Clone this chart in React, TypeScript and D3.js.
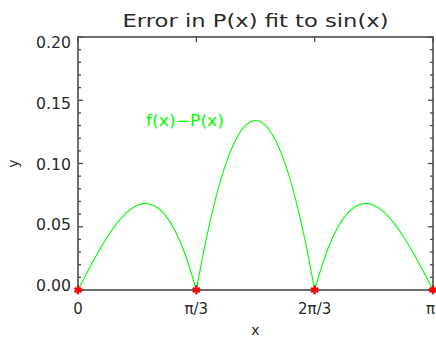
import React from "react";
import * as d3 from "d3";

// Sample points of the interpolation error, x in degrees (0..180 = 0..π)
const xDegrees = [
  0, 5, 10, 15, 20, 25, 30, 35, 40, 45, 50, 55, 60,
  65, 70, 75, 80, 85, 90, 95, 100, 105, 110, 115, 120,
  125, 130, 135, 140, 145, 150, 155, 160, 165, 170, 175, 180,
];
const errorValues = [
  0, 0.015, 0.0293, 0.0423, 0.0533, 0.0618, 0.067, 0.0684, 0.0654, 0.0576, 0.0444, 0.0253, 0,
  0.0403, 0.0737, 0.0999, 0.1188, 0.1302, 0.134, 0.1302, 0.1188, 0.0999, 0.0737, 0.0403, 0,
  0.0253, 0.0444, 0.0576, 0.0654, 0.0684, 0.067, 0.0618, 0.0533, 0.0423, 0.0293, 0.015, 0,
];

// Interpolation nodes (degrees) where the error vanishes
const nodeDegrees = [0, 60, 120, 180];
const nodeValues = [0, 0, 0, 0];

// Axis ticks
const xTickDegrees = [0, 60, 120, 180];
const xTickLabels = ["0", "π/3", "2π/3", "π"];
const yMajorTicks = [0, 0.05, 0.1, 0.15, 0.2];
const yTickLabels = ["0.00", "0.05", "0.10", "0.15", "0.20"];
const yMinorTicks = d3.range(0, 21).map((i) => i / 100).filter((v) => Math.round(v * 100) % 5 !== 0);

const titleText = "Error in P(x) fit to sin(x)";
const legendText = "f(x)−P(x)";

const W = 436;
const H = 339;
const left = 78;
const right = 433;
const top = 37;
const bottom = 290;

const FONT = "'DejaVu Sans', sans-serif";
const AXIS = "#4a4a4a";
const TEXT = "#2a2a2a";

export default function App() {
  const x = d3.scaleLinear().domain([0, 180]).range([left, right]);
  const y = d3.scaleLinear().domain([0, 0.2]).range([bottom, top]);
  const yLabel = d3.scaleLinear().domain([0, 0.2]).range([285.5, 43]);

  const line = d3
    .line<number>()
    .x((i) => x(xDegrees[i]))
    .y((i) => y(errorValues[i]))
    .curve(d3.curveNatural);

  // one arch between each pair of neighbouring nodes
  const arches = d3.range(nodeDegrees.length - 1).map((k) => {
    const a = xDegrees.indexOf(nodeDegrees[k]);
    const b = xDegrees.indexOf(nodeDegrees[k + 1]);
    return d3.range(a, b + 1);
  });

  const star = d3.symbol(d3.symbolAsterisk, 48)();

  const major = 5;
  const minor = 3;

  return (
    <svg
      width={W}
      height={H}
      style={{ position: "absolute", left: 0, top: 0, background: "#fff" }}
    >
      <text
        x={(left + right) / 2}
        y={27}
        textAnchor="middle"
        fontFamily={FONT}
        fontSize={18}
        fill={TEXT}
        textLength={266}
        lengthAdjust="spacingAndGlyphs"
      >
        {titleText}
      </text>

      {/* frame */}
      <rect
        x={left}
        y={top}
        width={right - left}
        height={bottom - top}
        fill="none"
        stroke={AXIS}
        strokeWidth={1.6}
      />

      {/* y ticks, both sides, pointing inward */}
      {yMajorTicks.map((v) => (
        <g key={"ym" + v}>
          <line x1={left} x2={left + major} y1={y(v)} y2={y(v)} stroke={AXIS} strokeWidth={1.3} />
          <line x1={right} x2={right - major} y1={y(v)} y2={y(v)} stroke={AXIS} strokeWidth={1.3} />
        </g>
      ))}
      {yMinorTicks.map((v) => (
        <g key={"yn" + v}>
          <line x1={left} x2={left + minor} y1={y(v)} y2={y(v)} stroke={AXIS} strokeWidth={1.3} />
          <line x1={right} x2={right - minor} y1={y(v)} y2={y(v)} stroke={AXIS} strokeWidth={1.3} />
        </g>
      ))}
      {yMajorTicks.map((v, i) => (
        <text
          key={"yl" + v}
          x={71}
          y={yLabel(v)}
          dy="0.36em"
          textAnchor="end"
          fontFamily={FONT}
          fontSize={15}
          fill={TEXT}
          textLength={35}
          lengthAdjust="spacingAndGlyphs"
        >
          {yTickLabels[i]}
        </text>
      ))}

      {/* x ticks, top and bottom, pointing inward */}
      {xTickDegrees.map((d) => (
        <g key={"xm" + d}>
          <line x1={x(d)} x2={x(d)} y1={bottom} y2={bottom - major} stroke={AXIS} strokeWidth={1.3} />
          <line x1={x(d)} x2={x(d)} y1={top} y2={top + major} stroke={AXIS} strokeWidth={1.3} />
        </g>
      ))}
      {xTickDegrees.map((d, i) => {
        const last = i === xTickDegrees.length - 1;
        return (
          <text
            key={"xl" + d}
            x={last ? W - 1 : x(d)}
            y={309}
            dy="0.36em"
            textAnchor={last ? "end" : "middle"}
            fontFamily={FONT}
            fontSize={15}
            fill={TEXT}
          >
            {xTickLabels[i]}
          </text>
        );
      })}

      {/* axis titles */}
      <text
        x={(left + right) / 2}
        y={331}
        dy="0.3em"
        textAnchor="middle"
        fontFamily={FONT}
        fontSize={14}
        fill={TEXT}
      >
        x
      </text>
      <text
        transform={`translate(14,${(top + bottom) / 2}) rotate(-90)`}
        dy="0.3em"
        textAnchor="middle"
        fontFamily={FONT}
        fontSize={14}
        fill={TEXT}
      >
        y
      </text>

      {/* error curve */}
      <g fill="none" stroke="#00ff00" strokeWidth={1.1}>
        {arches.map((idx, k) => (
          <path key={"arch" + k} d={line(idx) || ""} />
        ))}
      </g>

      {/* nodes */}
      {nodeDegrees.map((d, i) => (
        <path
          key={"node" + d}
          d={star || ""}
          transform={`translate(${x(d)},${y(nodeValues[i])})`}
          fill="none"
          stroke="#ff0000"
          strokeWidth={2.4}
        />
      ))}

      <text
        x={146}
        y={121}
        dy="0.36em"
        fontFamily={FONT}
        fontSize={15}
        fill="#00ff00"
        textLength={78}
        lengthAdjust="spacingAndGlyphs"
      >
        {legendText}
      </text>
    </svg>
  );
}
